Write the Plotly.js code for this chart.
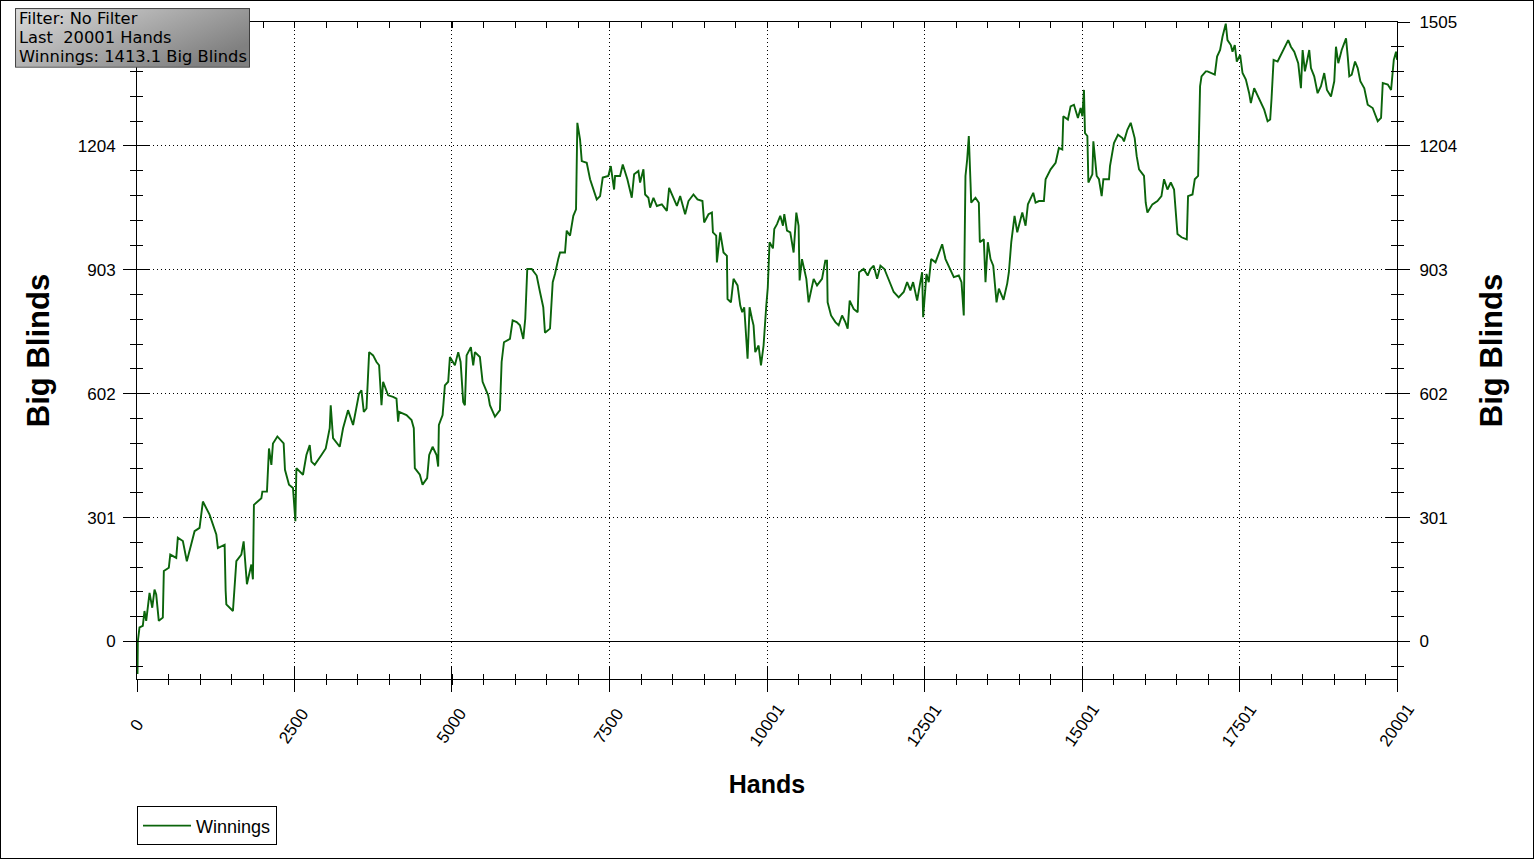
<!DOCTYPE html>
<html><head><meta charset="utf-8">
<script src="https://cdn.plot.ly/plotly-3.0.1.min.js"></script>
<style>html,body{margin:0;padding:0;background:#fff;}#chart{width:1532px;height:857px;border:1px solid #000;}</style>
</head><body><div id="chart"></div>
<script>
const hands = [
0,8,13,40,92,119,146,199,242,278, 305,346,410,426,505,528,623,648,728,791,
861,914,993,1046,1152,1259,1284,1391,1407,1418, 1523,1577,1656,1693,1745,1815,1840,1856,1974,1990,
2063,2095,2133,2158,2228,2328,2349,2413,2476,2514, 2530,2635,2689,2742,2769,2821,2928,2996,3059,3075,
3112,3218,3271,3350,3430,3484,3525,
3563,3600,3643,3685,3748,3802,3843,3881,3907,3986, 4065,4119,4145,4161,4278,4358,4394,4410,4490,4533,
4606,4638,4692,4755,4781,4792,4851,4887,4940,4967, 5046,5099,5137,5178,5205,5232,5300,5337,5364,5443,
5486,5575,5602,5682,5761,5788,5825,5920,5963,6027, 6079,6132,6163,6195,6265,6344,6397,6449,6476,6556,
6599,6635,6688,6715,
6794,6821,6874,6926,6969,6990,7033,7060,7139,7192, 7298,7351,7393,7482,7521,7573,7589,7668,7711,7784,
7854,7891,7959,7986,8039,8066,8118,8145,8198,8252, 8331,8411,8447,8506,8570,8622,8701,8754,8833,8897,
8976,9003,9072,9126,9142,9194,9205,9258,9310,9364, 9374,9428,9469,9533,9576,9607,9639,9692,9724,9762,
9787,9814,9867,9905,9946,9989,10013,10041,10095,10116,
10159,10211,10254,10275,10318,10370,10423,10466,10502,10518, 10556,10625,10661,10741,10795,10874,10926,10953,10963,11017,
11086,11138,11192,11244,11281,11313,11376,11440,11462,11535, 11599,11642,11694,11748,11801,11864,11933,12012,12091,12171,
12225,12277,12320,12384,12425,12463,12479,12532,12568,12606, 12675,12781,12834,12886,12966,13045,13088,13124,13151,13178,
13204,13231,13242,13310,13363,13379,13442,13469,13506,13549, 13592,13644,13681,13755,13814,13840,
13878,13930,13973,14053,14105,14142,14227,14264,14317,14396, 14423,14503,14582,14634,14688,14704,14777,14820,14873,14936,
14979,15006,15032,15048,15086,15102,15165,15181,15234,15270, 15313,15340,15429,15445,15508,15572,15642,15667,15721,15774,
15837,15869,15906,15985,16012,16039,16118,16198,16262,16303, 16357,16410,16462,16516,16580,16664,16684,16755,16791,16844,
16875,16898,16966,16993,17109,17145,17193,17231,17283,17310,
17363,17390,17426,17458,17511,17549,17602,17654,17681,17734, 17797,17840,17893,17947,17988,18010,18042,18106,18158,18238,
18274,18317,18370,18433,18476,18503,18539,18582,18608,18635, 18687,18741,18794,18846,18889,18953,19005,19032,19069,19123,
19192,19219,19244,19282,19335,19377,19419,19482,19536,19615, 19668,19695,19748,19775,19855,19907,19950,19986,20001
];
const winnings = [
0,-79,0,34,38,74,50,118,82,126, 114,50,58,171,179,211,203,252,244,195,
236,268,276,340,308,260,227,235,123,90, 74,195,211,243,139,187,151,332,348,364,
364,469,429,481,498,481,417,381,373,292, 421,405,453,477,437,429,453,469,518,574,
494,473,518,562,526,566,602,
610,558,566,703,695,679,671,574,631,598, 594,590,534,558,550,538,518,421,405,381,
397,453,473,453,425,526,550,622,631,691, 671,703,679,582,574,695,715,671,703,691,
631,598,574,546,562,679,727,735,780,776, 768,735,784,905,905,889,849,812,750,760,
873,893,930,945,
945,998,986,1034,1050,1260,1219,1167,1163,1123, 1074,1082,1127,1131,1155,1098,1131,1131,1159,1123,
1078,1135,1143,1115,1147,1086,1078,1054,1078,1058, 1062,1046,1102,1082,1058,1082,1038,1070,1086,1074,
1070,1018,1038,1042,994,986,921,994,945,937, 832,824,881,865,816,800,812,687,812,784,
768,703,719,671,719,816,860,970,955,1002,
1014,1034,1010,1038,998,994,945,1042,1010,877, 929,881,824,881,865,881,925,925,824,792,
776,768,792,776,760,828,808,800,897,905, 889,905,913,881,913,905,881,849,836,849,
873,853,873,828,865,897,788,893,873,929, 921,965,929,913,885,889,873,792,1131,1171,
1228,1115,1066,1078,1066,970,977,873,970,929, 913,824,857,830,870,897,
970,1034,994,1042,1010,1062,1090,1066,1070,1070, 1123,1147,1163,1199,1195,1276,1268,1300,1304,1272,
1296,1276,1340,1235,1228,1115,1135,1215,1131,1123, 1082,1123,1123,1155,1211,1231,1223,1215,1243,1260,
1223,1179,1147,1131,1066,1042,1062,1070,1082,1123, 1098,1115,1098,990,982,977,1082,1086,1123,1131,
1349,1373,1385,1385,1377,1421,1437,1469,1501,1461,
1449,1433,1449,1409,1425,1381,1365,1332,1308,1344, 1324,1308,1292,1264,1268,1320,1413,1409,1425,1449,
1461,1445,1433,1405,1344,1437,1385,1417,1437,1393, 1373,1332,1349,1381,1340,1324,1361,1445,1405,1437,
1465,1421,1373,1377,1409,1393,1361,1344,1304,1296, 1276,1264,1272,1357,1353,1340,1413,1433,1413.1
];
const xTickVals = [0, 2500, 5000, 7500, 10001, 12501, 15001, 17501, 20001];
const xTickText = ["0", "2500", "5000", "7500", "10001", "12501", "15001", "17501", "20001"];
const yTickVals = [0, 301, 602, 903, 1204, 1505];
const yTickText = ["0", "301", "602", "903", "1204", "1505"];
const infoLines = ["Filter: No Filter", "Last\u00a0\u00a020001 Hands", "Winnings: 1413.1 Big Blinds"];

const X_MAX = 20001, Y_MIN = -91.2, Y_MAX = 1505;
const xMinor = []; for (let i = 0; i <= 40; i++) xMinor.push(i * X_MAX / 40);
const yMinor = []; for (let i = -1; i <= 25; i++) yMinor.push(i * 301 / 5);

const F = 'Liberation Sans, Arial, sans-serif';
const blk = '#000';

function xInner(side, showline) {
  return {range:[0,X_MAX], overlaying:'x', side:side, anchor:'y', showticklabels:false, showgrid:false, zeroline:false,
    showline:showline, linecolor:blk, linewidth:1, tickmode:'array', tickvals:xTickVals, ticks:'inside',
    ticklen: side==='top'?6:12, tickcolor:blk,
    minor:{tickvals:xMinor, ticks:'inside', ticklen: side==='top'?6:5, tickcolor:blk, showgrid:false}};
}
function yInner(side) {
  return {range:[Y_MIN,Y_MAX], overlaying:'y', side:side, anchor:'x', showticklabels:false, showgrid:false, zeroline:false,
    showline:false, tickmode:'array', tickvals:yTickVals, ticks:'inside', ticklen:12, tickcolor:blk,
    minor:{tickvals:yMinor, ticks:'inside', ticklen:6, tickcolor:blk, showgrid:false}};
}

const traces = [
  {x:hands, y:winnings, type:'scatter', mode:'lines', name:'Winnings', line:{color:'#0b640b', width:1.9}, hoverinfo:'skip'},
  {x:[], y:[], xaxis:'x2', yaxis:'y2', type:'scatter', mode:'lines', showlegend:false, hoverinfo:'skip'},
  {x:[], y:[], xaxis:'x3', yaxis:'y3', type:'scatter', mode:'lines', showlegend:false, hoverinfo:'skip'},
  {x:[], y:[], xaxis:'x3', yaxis:'y4', type:'scatter', mode:'lines', showlegend:false, hoverinfo:'skip'}
];

const svg = '<svg xmlns="http://www.w3.org/2000/svg" width="235" height="60" preserveAspectRatio="none">' +
  '<defs><linearGradient id="g" x1="0" y1="0" x2="1" y2="0.6"><stop offset="0" stop-color="#dcdcdc"/><stop offset="1" stop-color="#808080"/></linearGradient></defs>' +
  '<rect x="0.5" y="0.5" width="234" height="59" fill="url(#g)" stroke="#3c3c3c" stroke-width="1"/></svg>';

const infoY = [1.0053, 0.9765, 0.9477];
const infoAnn = infoLines.map((t, i) => ({text:t, xref:'paper', yref:'paper', x:-0.0946, y:infoY[i],
  xanchor:'left', yanchor:'middle', showarrow:false, align:'left', borderpad:0,
  font:{family:'DejaVu Sans, Verdana, sans-serif', size:16.3, color:blk}}));

// x tick labels: rotated text centred under each tick (as in the reference)
const xLabelAnn = xTickVals.map((v, i) => ({text:xTickText[i], xref:'x', yref:'paper', x:v, y:-0.0715,
  xanchor:'center', yanchor:'middle', textangle:-55, showarrow:false, borderpad:0,
  font:{family:F, size:17, color:blk}}));

const layout = {
  width:1532, height:857, margin:{l:136, r:136, t:21, b:176},
  paper_bgcolor:'#fff', plot_bgcolor:'#fff',
  font:{family:F, size:17, color:blk},
  hovermode:false, showlegend:true,
  xaxis:{range:[0,X_MAX], tickmode:'array', tickvals:xTickVals, ticktext:xTickText, showticklabels:false,
    ticks:'outside', ticklen:12, tickcolor:blk, showline:true, linecolor:blk, linewidth:1,
    showgrid:true, gridcolor:'#000', griddash:'1px,3px', gridwidth:1, zeroline:false,
    minor:{tickvals:xMinor, ticks:'outside', ticklen:5, tickcolor:blk, showgrid:false},
    title:{text:'Hands', font:{family:F, size:25, weight:'bold', color:blk}, standoff:84}},
  xaxis2: xInner('bottom', false),
  xaxis3: xInner('top', true),
  yaxis:{range:[Y_MIN,Y_MAX], tickmode:'array', tickvals:yTickVals.slice(0,5), ticktext:yTickText.slice(0,5),
    ticks:'outside', ticklen:13, tickcolor:blk, showline:true, linecolor:blk, linewidth:1, ticklabelstandoff:4,
    showgrid:true, gridcolor:'#000', griddash:'1px,3px', gridwidth:1,
    zeroline:true, zerolinecolor:blk, zerolinewidth:1,
    tickfont:{family:F, size:17, color:blk},
    minor:{tickvals:yMinor, ticks:'outside', ticklen:6, tickcolor:blk, showgrid:false},
    title:{text:'Big Blinds', font:{family:F, size:31, weight:'bold', color:blk}, standoff:18}},
  yaxis2: yInner('left'),
  yaxis3:{range:[Y_MIN,Y_MAX], overlaying:'y', side:'right', anchor:'x', tickmode:'array', tickvals:yTickVals, ticktext:yTickText,
    ticks:'outside', ticklen:12, tickcolor:blk, showline:true, linecolor:blk, linewidth:1, ticklabelstandoff:6,
    showgrid:false, zeroline:false, tickfont:{family:F, size:17, color:blk},
    minor:{tickvals:yMinor, ticks:'outside', ticklen:6, tickcolor:blk, showgrid:false},
    title:{text:'Big Blinds', font:{family:F, size:31, weight:'bold', color:blk}, standoff:24}},
  yaxis4: yInner('right'),
  legend:{x:0, xanchor:'left', y:-0.194, yanchor:'top', bordercolor:blk, borderwidth:1, bgcolor:'#fff',
    font:{family:F, size:18, color:blk}, itemwidth:48, orientation:'h'},
  images:[{source:'data:image/svg+xml;charset=utf-8,' + encodeURIComponent(svg), xref:'paper', yref:'paper',
    x:-0.0968, y:1.0212, sizex:0.1865, sizey:0.0909, xanchor:'left', yanchor:'top', sizing:'stretch', layer:'above'}],
  annotations: infoAnn.concat(xLabelAnn)
};

Plotly.newPlot('chart', traces, layout, {displayModeBar:false, staticPlot:true});
</script>
</body></html>
